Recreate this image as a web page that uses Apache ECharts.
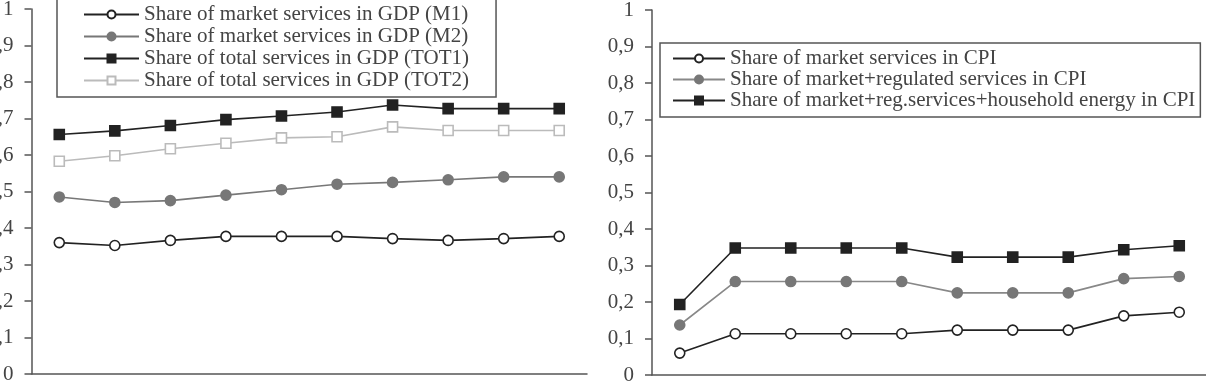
<!DOCTYPE html>
<html>
<head>
<meta charset="utf-8">
<script src="https://cdn.jsdelivr.net/npm/echarts@6/dist/echarts.min.js"></script>
<style>
  html, body { margin: 0; padding: 0; background: #fff; }
  #chart { width: 1206px; height: 390px; }
</style>
</head>
<body>
<div id="chart"></div>
<script>
// categories (no labels shown on the x axis)
var periods = ['1', '2', '3', '4', '5', '6', '7', '8', '9', '10'];
var yTicks = [0, 0.1, 0.2, 0.3, 0.4, 0.5, 0.6, 0.7, 0.8, 0.9, 1];

// left panel: shares in GDP
var gdpM1 = [0.36, 0.352, 0.366, 0.377, 0.377, 0.377, 0.371, 0.366, 0.371, 0.377];
var gdpM2 = [0.485, 0.47, 0.475, 0.49, 0.505, 0.52, 0.525, 0.532, 0.54, 0.54];
var gdpTot1 = [0.656, 0.666, 0.681, 0.697, 0.707, 0.718, 0.737, 0.727, 0.727, 0.727];
var gdpTot2 = [0.583, 0.598, 0.617, 0.632, 0.647, 0.65, 0.677, 0.667, 0.667, 0.667];

// right panel: shares in CPI
var cpiMarket = [0.06, 0.113, 0.113, 0.113, 0.113, 0.123, 0.123, 0.123, 0.162, 0.172];
var cpiRegulated = [0.137, 0.256, 0.256, 0.256, 0.256, 0.225, 0.225, 0.225, 0.264, 0.27];
var cpiEnergy = [0.193, 0.348, 0.348, 0.348, 0.348, 0.323, 0.323, 0.323, 0.343, 0.354];

var FONT = '"Liberation Serif", "DejaVu Serif", serif';
var AXIS = '#555';

function xAxisFor(idx) {
    return {
        type: 'category',
        gridIndex: idx,
        data: periods,
        boundaryGap: true,
        axisLine: { lineStyle: { color: AXIS, width: 1.5 } },
        axisTick: { inside: true, length: 6, lineStyle: { color: AXIS, width: 1.5 } },
        axisLabel: { show: false }
    };
}
function yAxisFor(idx) {
    return {
        type: 'value',
        gridIndex: idx,
        min: yTicks[0],
        max: yTicks[yTicks.length - 1],
        interval: 0.1,
        splitLine: { show: false },
        axisLine: { show: true, lineStyle: { color: AXIS, width: 1.5 } },
        axisTick: { show: true, length: 7, lineStyle: { color: AXIS, width: 1.5 } },
        axisLabel: {
            margin: 18,
            color: '#444',
            fontFamily: FONT,
            fontSize: 21,
            formatter: function (v) { return String(Math.round(v * 10) / 10).replace('.', ','); }
        }
    };
}
function lineSeries(name, data, idx, symbol, lineColor, fill, border) {
    return {
        name: name,
        type: 'line',
        xAxisIndex: idx,
        yAxisIndex: idx,
        data: data,
        symbol: symbol,
        symbolSize: 10,
        showAllSymbol: true,
        animation: false,
        lineStyle: { color: lineColor, width: 1.6 },
        itemStyle: { color: fill, borderColor: border, borderWidth: 1.6 }
    };
}
var legendText = { fontFamily: FONT, fontSize: 21, color: '#444' };

var myChart = echarts.init(document.getElementById('chart'));
var option = {
    backgroundColor: '#fff',
    animation: false,
    grid: [
        { left: 31.5, width: 555.5, top: 9, bottom: 16, containLabel: false, outerBoundsMode: 'none' },
        { left: 652, width: 555, top: 10, bottom: 15, containLabel: false, outerBoundsMode: 'none' }
    ],
    legend: [
        {
            orient: 'vertical',
            left: 57,
            top: -3,
            padding: [7, 27, 6, 26],
            itemGap: 1,
            itemWidth: 55,
            itemHeight: 10,
            borderColor: AXIS,
            borderWidth: 1.5,
            textStyle: legendText,
            data: [
                'Share of market services in GDP (M1)',
                'Share of market services in GDP (M2)',
                'Share of total services in GDP (TOT1)',
                'Share of total services in GDP (TOT2)'
            ]
        },
        {
            orient: 'vertical',
            left: 660,
            top: 43,
            padding: [5, 5, 6, 12],
            itemGap: 0,
            itemWidth: 52,
            itemHeight: 10,
            borderColor: AXIS,
            borderWidth: 1.5,
            textStyle: legendText,
            data: [
                'Share of market services in CPI',
                'Share of market+regulated services in CPI',
                'Share of market+reg.services+household energy in CPI'
            ]
        }
    ],
    xAxis: [xAxisFor(0), xAxisFor(1)],
    yAxis: [yAxisFor(0), yAxisFor(1)],
    series: [
        lineSeries('Share of market services in GDP (M1)', gdpM1, 0, 'circle', '#222', '#fff', '#222'),
        lineSeries('Share of market services in GDP (M2)', gdpM2, 0, 'circle', '#777', '#777', '#777'),
        lineSeries('Share of total services in GDP (TOT1)', gdpTot1, 0, 'rect', '#222', '#222', '#222'),
        lineSeries('Share of total services in GDP (TOT2)', gdpTot2, 0, 'rect', '#bbb', '#fff', '#bbb'),
        lineSeries('Share of market services in CPI', cpiMarket, 1, 'circle', '#222', '#fff', '#222'),
        lineSeries('Share of market+regulated services in CPI', cpiRegulated, 1, 'circle', '#888', '#777', '#777'),
        lineSeries('Share of market+reg.services+household energy in CPI', cpiEnergy, 1, 'rect', '#222', '#222', '#222')
    ]
};
myChart.setOption(option);
window.addEventListener('resize', function () {
    myChart.resize();
});
</script>
</body>
</html>
